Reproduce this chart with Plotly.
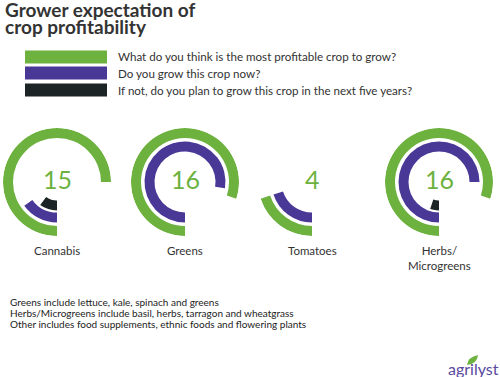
import plotly.graph_objects as go

categories = ["Cannabis", "Greens", "Tomatoes", "Herbs/<br>Microgreens"]
most_profitable = [15, 16, 4, 16]
grow_now = [3, 15.5, 4, 15]
plan_to_grow = [2, 0, 0, 1]
series_names = [
    "What do you think is the most profitable crop to grow?",
    "Do you grow this crop now?",
    "If not, do you plan to grow this crop in the next five years?",
]
title_lines = ["Grower expectation of", "crop profitability"]
footnotes = [
    "Greens include lettuce, kale, spinach and greens",
    "Herbs/Microgreens include basil, herbs, tarragon and wheatgrass",
    "Other includes food supplements, ethnic foods and flowering plants",
]
scale_max = 20

W, H = 500, 377
GREEN, PURPLE, DARK = "#6db23f", "#4a3896", "#1d2426"
TEXT = "#333333"
FONT = "Lato"

centers_x = [57, 185, 312, 439]
center_y = 182
R = 54
rings = [  # (values, color, inner radius, thickness)
    (most_profitable, GREEN, 44, 10),
    (grow_now, PURPLE, 30.5, 10),
    (plan_to_grow, DARK, 18.5, 10),
]

def px(x):
    return x / W

def py(y):
    return 1 - y / H

fig = go.Figure()
layout = {}
for i, cx in enumerate(centers_x):
    key = "polar" if i == 0 else f"polar{i+1}"
    for (vals, color, inner, thick), name in zip(rings, series_names):
        v = vals[i]
        fig.add_trace(go.Barpolar(
            r=[thick], base=[inner], theta=[v * 360 / scale_max / 2],
            width=[v * 360 / scale_max], marker=dict(color=color, line=dict(width=0)),
            subplot=key, showlegend=False, name=name, hoverinfo="skip",
        ))
    layout[key] = dict(
        domain=dict(x=[px(cx - R), px(cx + R)], y=[py(center_y + R), py(center_y - R)]),
        bgcolor="rgba(0,0,0,0)",
        radialaxis=dict(visible=False, range=[0, R]),
        angularaxis=dict(visible=False, rotation=-90, direction="clockwise"),
        bargap=0,
    )
    fig.add_annotation(x=px(cx), y=py(179), xref="paper", yref="paper",
                       text=str(most_profitable[i]), showarrow=False,
                       font=dict(family=FONT, size=25, color=GREEN),
                       xanchor="center", yanchor="middle")
    fig.add_annotation(x=px(cx), y=py(242), xref="paper", yref="paper",
                       text=categories[i], showarrow=False,
                       font=dict(family=FONT, size=11.5, color=TEXT),
                       xanchor="center", yanchor="top", align="center")

fig.update_layout(**layout)

# Title (two lines, tight spacing)
for k, t in enumerate(title_lines):
    fig.add_annotation(x=px(3), y=py(9.5 + 16.7 * k), xref="paper", yref="paper",
                       text=f"<b>{t}</b>", showarrow=False, xanchor="left", yanchor="middle",
                       font=dict(family=FONT, size=19, color=TEXT))

# Legend
leg_y = [57, 73, 90]
for (vals, color, _, _), name, yy in zip(rings, series_names, leg_y):
    fig.add_shape(type="rect", xref="paper", yref="paper",
                  x0=px(25), x1=px(107), y0=py(yy - 6.5), y1=py(yy + 6.5),
                  fillcolor=color, line=dict(width=0))
    fig.add_annotation(x=px(116), y=py(yy), xref="paper", yref="paper", text=name,
                       showarrow=False, xanchor="left", yanchor="middle",
                       font=dict(family=FONT, size=11.6, color=TEXT))

# Footnotes
for k, t in enumerate(footnotes):
    fig.add_annotation(x=px(8), y=py(302 + 11 * k), xref="paper", yref="paper", text=t,
                       showarrow=False, xanchor="left", yanchor="middle",
                       font=dict(family=FONT, size=10, color="#222222"))

# Logo
fig.add_annotation(x=px(501), y=py(368), xref="paper", yref="paper", text="agrilyst",
                   showarrow=False, xanchor="right", yanchor="middle",
                   font=dict(family=FONT, size=16, color="#5a4a9e"))
fig.add_shape(type="path", xref="paper", yref="paper",
              path=f"M {px(467)} {py(365)} Q {px(468)} {py(357)} {px(478)} {py(355)} Q {px(477)} {py(364)} {px(467)} {py(365)} Z",
              fillcolor=GREEN, line=dict(width=0))

fig.update_layout(width=W, height=H, margin=dict(l=0, r=0, t=0, b=0),
                  paper_bgcolor="white", plot_bgcolor="white", showlegend=False)
fig.write_html("out.html", config={"displayModeBar": False},
               post_script="document.body.style.margin='0';document.body.style.overflow='hidden';")
